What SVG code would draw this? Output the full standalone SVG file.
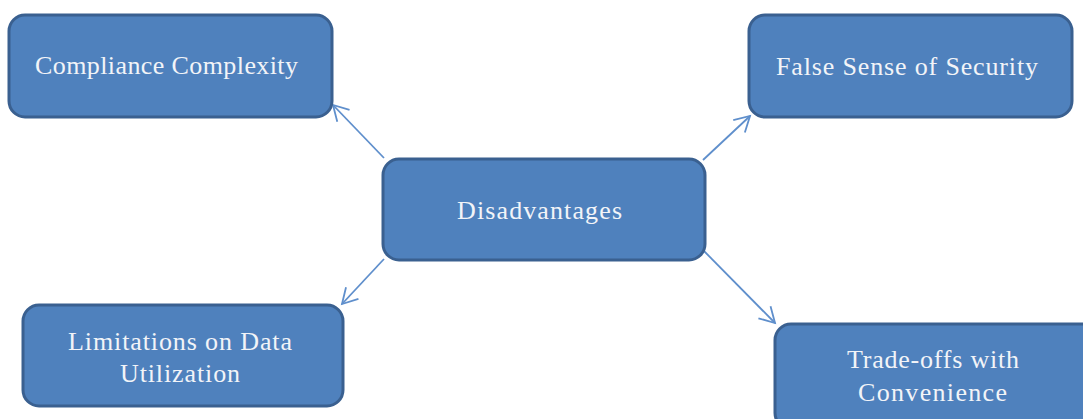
<svg xmlns="http://www.w3.org/2000/svg" width="1083" height="419" viewBox="0 0 1083 419">
  <style>
    .box { fill: #4F81BD; stroke: #3A6090; stroke-width: 3; }
    .label { font-family: "Liberation Serif", "Times New Roman", serif; font-size: 26px; fill: #F2F4F8; }
    .link { stroke: #5F8FCC; stroke-width: 1.8; fill: none; marker-end: url(#arrow); }
  </style>
  <defs>
    <marker id="arrow" viewBox="0 0 22 22" refX="19" refY="11" markerWidth="22" markerHeight="22" markerUnits="userSpaceOnUse" orient="auto">
      <path d="M4,2.5 L19,11 L4,19.5" fill="none" stroke="#5F8FCC" stroke-width="1.8"/>
    </marker>
  </defs>

  <rect width="1083" height="419" fill="#FFFFFF"/>

  <g id="connectors">
    <line class="link" x1="384" y1="158" x2="333" y2="105"/>
    <line class="link" x1="703" y1="160" x2="750" y2="116"/>
    <line class="link" x1="384" y1="259" x2="342" y2="304"/>
    <line class="link" x1="703" y1="250" x2="775" y2="323"/>
  </g>

  <g id="node-center">
    <rect class="box" x="383" y="159" width="322" height="101" rx="16"/>
    <text class="label" x="457" y="219" textLength="165" lengthAdjust="spacing">Disadvantages</text>
  </g>

  <g id="node-compliance">
    <rect class="box" x="9" y="15" width="323" height="102" rx="16"/>
    <text class="label" x="35" y="74" textLength="263" lengthAdjust="spacing">Compliance Complexity</text>
  </g>

  <g id="node-false-security">
    <rect class="box" x="749" y="15" width="323" height="102" rx="16"/>
    <text class="label" x="776" y="75" textLength="262" lengthAdjust="spacing">False Sense of Security</text>
  </g>

  <g id="node-limitations">
    <rect class="box" x="23" y="305" width="320" height="101" rx="16"/>
    <text class="label" x="68" y="350" textLength="224" lengthAdjust="spacing">Limitations on Data</text>
    <text class="label" x="120" y="382" textLength="120" lengthAdjust="spacing">Utilization</text>
  </g>

  <g id="node-tradeoffs">
    <rect class="box" x="775" y="324" width="325" height="105" rx="16"/>
    <text class="label" x="847" y="368" textLength="172" lengthAdjust="spacing">Trade-offs with</text>
    <text class="label" x="858" y="401" textLength="149" lengthAdjust="spacing">Convenience</text>
  </g>
</svg>
